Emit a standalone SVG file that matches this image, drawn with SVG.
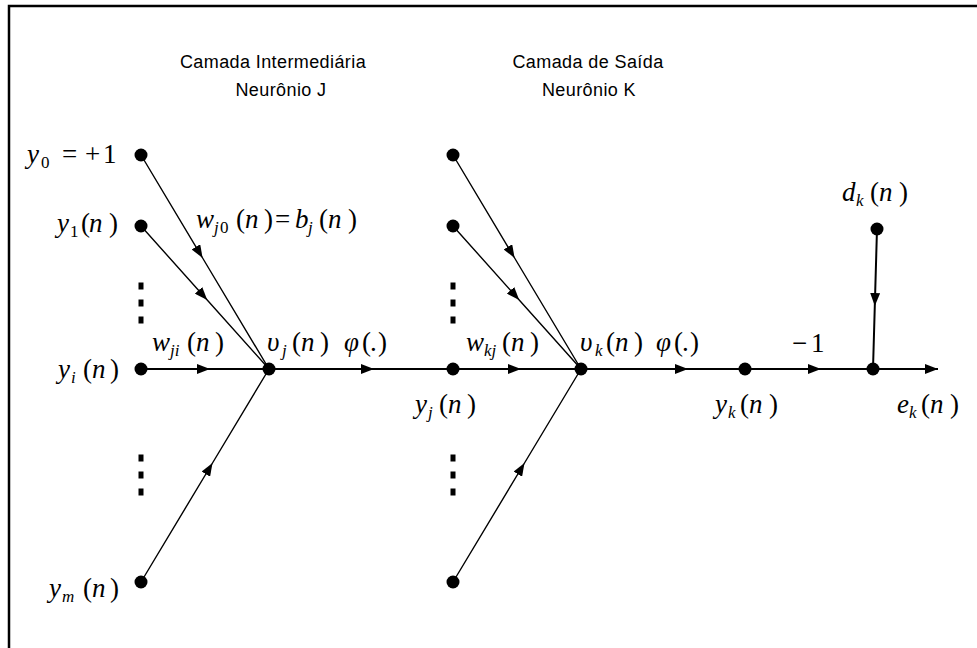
<svg xmlns="http://www.w3.org/2000/svg" width="977" height="648" viewBox="0 0 977 648">
<style>
.frame{stroke:#000;stroke-width:2.5;fill:none}
.h{stroke:#000;stroke-width:2;fill:none}
.d{stroke:#000;stroke-width:1.4;fill:none}
.arr{marker-mid:url(#ah)}
.dot{fill:#000}
.m{font-family:"Liberation Serif","Times New Roman",serif;font-size:27px;fill:#000}
.i{font-style:italic}
.s{font-size:17px}
.t{font-family:"Liberation Sans",Arial,sans-serif;font-size:18px;fill:#000;text-anchor:middle;letter-spacing:0.4px}
.el{fill:#000}
</style>
<defs>
<marker id="ah" markerUnits="userSpaceOnUse" markerWidth="14" markerHeight="10" refX="13" refY="5" orient="auto" viewBox="0 0 14 10">
<path d="M0,0 L13,5 L0,10 z" fill="#000"/>
</marker>
</defs>
<rect width="977" height="648" fill="#fff"/>
<path class="frame" d="M9,648 L9,6 L977,6"/>

<g id="titles">
<text class="t" x="273" y="68">Camada Intermediária</text>
<text class="t" x="281" y="96">Neurônio J</text>
<text class="t" x="588" y="68">Camada de Saída</text>
<text class="t" x="589" y="96">Neurônio K</text>
</g>

<g id="connectors">
<path class="d arr" d="M141,155 L202.6,258 L269,369"/>
<path class="d arr" d="M141,226 L207.2,300 L269,369"/>
<path class="h arr" d="M141,369 L210,369 L269,369"/>
<path class="d arr" d="M141,582 L212.5,463 L269,369"/>
<path class="h arr" d="M269,369 L374,369 L453,369"/>
<path class="d arr" d="M453,155 L514.6,258 L581,369"/>
<path class="d arr" d="M453,226 L519.2,300 L581,369"/>
<path class="h arr" d="M453,369 L521,369 L581,369"/>
<path class="d arr" d="M453,582 L524.5,463 L581,369"/>
<path class="h arr" d="M581,369 L688,369 L745,369"/>
<path class="h arr" d="M745,369 L821,369 L873,369"/>
<path class="h" d="M873,369 L938,369" marker-end="url(#ah)"/>
<path class="h arr" d="M877,229 L874.8,306 L873,369"/>
</g>

<g id="ellipsis-j">
<rect class="el" x="138.5" y="282.5" width="5" height="7"/>
<rect class="el" x="138.5" y="299.5" width="5" height="7"/>
<rect class="el" x="138.5" y="316.5" width="5" height="7"/>
<rect class="el" x="138.5" y="454.5" width="5" height="7"/>
<rect class="el" x="138.5" y="471.5" width="5" height="7"/>
<rect class="el" x="138.5" y="488.5" width="5" height="7"/>
</g>
<g id="ellipsis-k">
<rect class="el" x="450.5" y="282.5" width="5" height="7"/>
<rect class="el" x="450.5" y="299.5" width="5" height="7"/>
<rect class="el" x="450.5" y="316.5" width="5" height="7"/>
<rect class="el" x="450.5" y="454.5" width="5" height="7"/>
<rect class="el" x="450.5" y="471.5" width="5" height="7"/>
<rect class="el" x="450.5" y="488.5" width="5" height="7"/>
</g>

<g id="node-y0">
<circle class="dot" cx="141" cy="155" r="6.5"/>
<text class="m" x="27" y="163"><tspan class="i">y</tspan><tspan class="s" x="41" y="168">0</tspan><tspan x="62" y="163">=</tspan><tspan x="85">+</tspan><tspan x="103">1</tspan></text>
</g>
<g id="node-y1">
<circle class="dot" cx="141" cy="226" r="6.5"/>
<text class="m" x="57" y="232"><tspan class="i">y</tspan><tspan class="s" x="70" y="237">1</tspan><tspan x="81" y="232">(</tspan><tspan class="i" x="89">n</tspan><tspan x="109">)</tspan></text>
</g>
<g id="label-wj0">
<text class="m" x="196" y="228"><tspan class="i">w</tspan><tspan class="s i" x="214" y="233">j</tspan><tspan class="s" x="220">0</tspan><tspan x="236" y="228">(</tspan><tspan class="i" x="245">n</tspan><tspan x="264">)</tspan><tspan x="275">=</tspan><tspan class="i" x="295">b</tspan><tspan class="s i" x="308" y="233">j</tspan><tspan x="319" y="228">(</tspan><tspan class="i" x="328">n</tspan><tspan x="348">)</tspan></text>
</g>
<g id="node-yi">
<circle class="dot" cx="141" cy="369" r="6.5"/>
<text class="m" x="58" y="378"><tspan class="i">y</tspan><tspan class="s i" x="71" y="383">i</tspan><tspan x="83" y="378">(</tspan><tspan class="i" x="92">n</tspan><tspan x="110">)</tspan></text>
<text class="m" x="152" y="351"><tspan class="i">w</tspan><tspan class="s i" x="170" y="356">ji</tspan><tspan x="187" y="351">(</tspan><tspan class="i" x="196">n</tspan><tspan x="215">)</tspan></text>
</g>
<g id="node-ym">
<circle class="dot" cx="141" cy="582" r="6.5"/>
<text class="m" x="49" y="597"><tspan class="i">y</tspan><tspan class="s i" x="62" y="602">m</tspan><tspan x="83" y="597">(</tspan><tspan class="i" x="92">n</tspan><tspan x="110">)</tspan></text>
</g>
<g id="node-j">
<circle class="dot" cx="269" cy="369" r="6.5"/>
<text class="m" x="267" y="351"><tspan class="i">υ</tspan><tspan class="s i" x="282" y="356">j</tspan><tspan x="292" y="351">(</tspan><tspan class="i" x="301">n</tspan><tspan x="320">)</tspan></text>
<text class="m" x="344" y="351"><tspan class="i">φ</tspan><tspan x="362">(</tspan><tspan x="370">.</tspan><tspan x="378">)</tspan></text>
</g>
<g id="node-yj">
<circle class="dot" cx="453" cy="369" r="6.5"/>
<text class="m" x="415" y="413"><tspan class="i">y</tspan><tspan class="s i" x="428" y="418">j</tspan><tspan x="439" y="413">(</tspan><tspan class="i" x="448">n</tspan><tspan x="467">)</tspan></text>
</g>
<g id="node-k1"><circle class="dot" cx="453" cy="155" r="6.5"/></g>
<g id="node-k2"><circle class="dot" cx="453" cy="226" r="6.5"/></g>
<g id="node-k3"><circle class="dot" cx="453" cy="582" r="6.5"/></g>
<g id="label-wkj">
<text class="m" x="466" y="351"><tspan class="i">w</tspan><tspan class="s i" x="484" y="356">kj</tspan><tspan x="502" y="351">(</tspan><tspan class="i" x="511">n</tspan><tspan x="530">)</tspan></text>
</g>
<g id="node-k">
<circle class="dot" cx="581" cy="369" r="6.5"/>
<text class="m" x="580" y="351"><tspan class="i">υ</tspan><tspan class="s i" x="595" y="356">k</tspan><tspan x="606" y="351">(</tspan><tspan class="i" x="615">n</tspan><tspan x="634">)</tspan></text>
<text class="m" x="656" y="351"><tspan class="i">φ</tspan><tspan x="674">(</tspan><tspan x="682">.</tspan><tspan x="690">)</tspan></text>
</g>
<g id="node-yk">
<circle class="dot" cx="745" cy="369" r="6.5"/>
<text class="m" x="715" y="413"><tspan class="i">y</tspan><tspan class="s i" x="728" y="418">k</tspan><tspan x="740" y="413">(</tspan><tspan class="i" x="749">n</tspan><tspan x="769">)</tspan></text>
<text class="m" x="792" y="352">−<tspan x="811">1</tspan></text>
</g>
<g id="node-sum">
<circle class="dot" cx="873" cy="369" r="6.5"/>
<text class="m" x="897" y="413"><tspan class="i">e</tspan><tspan class="s i" x="909" y="418">k</tspan><tspan x="921" y="413">(</tspan><tspan class="i" x="930">n</tspan><tspan x="950">)</tspan></text>
</g>
<g id="node-dk">
<circle class="dot" cx="877" cy="229" r="6.5"/>
<text class="m" x="842" y="201"><tspan class="i">d</tspan><tspan class="s i" x="856" y="206">k</tspan><tspan x="870" y="201">(</tspan><tspan class="i" x="879">n</tspan><tspan x="899">)</tspan></text>
</g>
</svg>
